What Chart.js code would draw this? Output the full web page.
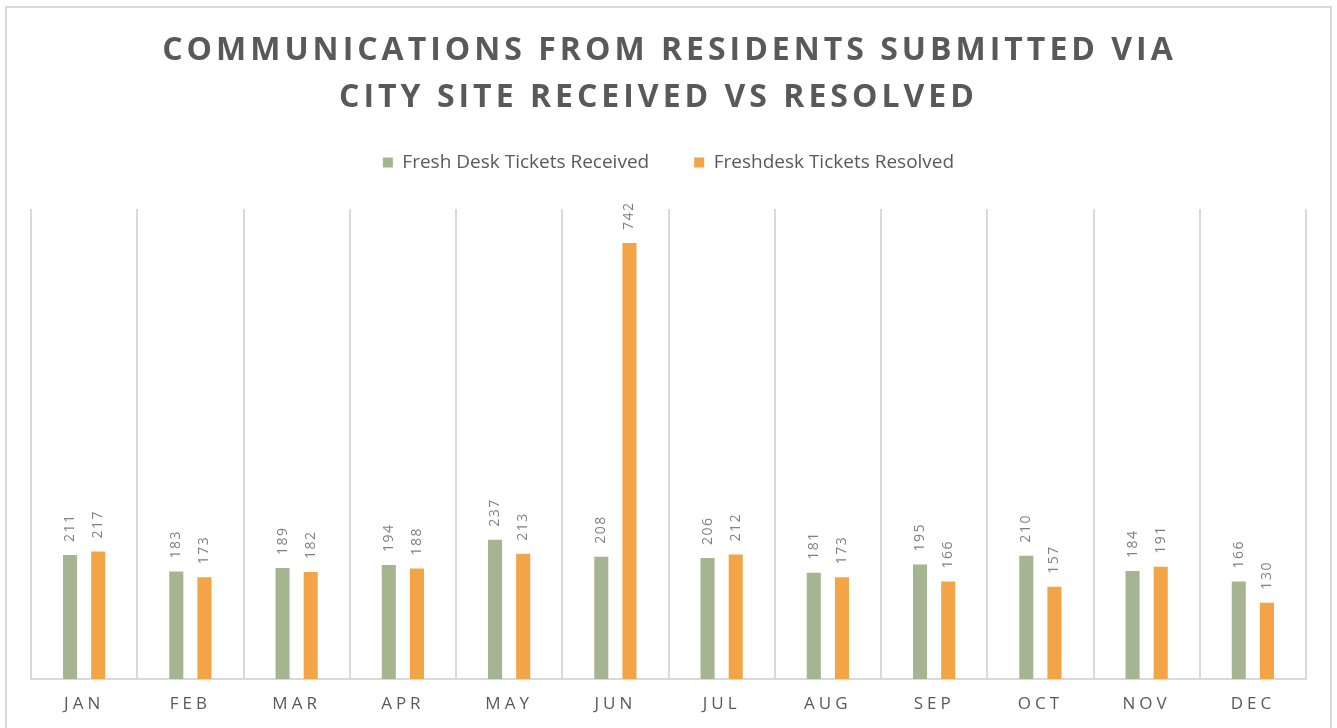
<!DOCTYPE html>
<html>
<head>
<meta charset="utf-8">
<script src="https://cdn.jsdelivr.net/npm/chart.js@4.4.1/dist/chart.umd.min.js"></script>
<style>
  html,body{margin:0;padding:0;background:#fff;}
  #wrap{position:relative;width:1337px;height:728px;overflow:hidden;}
  #frame{position:absolute;left:5px;top:6px;width:1327px;height:740px;border:2px solid #d9d9d9;box-sizing:border-box;pointer-events:none;}
  canvas{position:absolute;left:0;top:0;}
</style>
</head>
<body>
<div id="wrap">
  <canvas id="chart" width="1337" height="728"></canvas>
  <div id="frame"></div>
</div>
<script>
// ── DATA ─────────────────────────────────────────────────
const titleLines = ['COMMUNICATIONS FROM RESIDENTS SUBMITTED VIA','CITY SITE RECEIVED VS RESOLVED'];
const months = ['JAN','FEB','MAR','APR','MAY','JUN','JUL','AUG','SEP','OCT','NOV','DEC'];
const received = [211,183,189,194,237,208,206,181,195,210,184,166];
const resolved = [217,173,182,188,213,742,212,173,166,157,191,130];
const seriesNames = ['Fresh Desk Tickets Received','Freshdesk Tickets Resolved'];

const GREEN = '#a5b592', ORANGE = '#f3a447', TXT = '#595959', LBL = '#7f7f7f', GRID = '#d9d9d9';
const FONT = '"Open Sans", "Liberation Sans", sans-serif';

// ── PLUGINS ──────────────────────────────────────────────
const extras = {
    id:'extras',
    afterDatasetsDraw(chart){
        const ctx = chart.ctx;
        ctx.save();
        ctx.fillStyle = LBL;
        ctx.font = '14px ' + FONT;
        ctx.letterSpacing = '1.5px';
        ctx.textAlign = 'left';
        ctx.textBaseline = 'middle';
        chart.data.datasets.forEach((ds,di)=>{
            chart.getDatasetMeta(di).data.forEach((bar,i)=>{
                ctx.save();
                ctx.translate(bar.x, bar.y - 13);
                ctx.rotate(-Math.PI/2);
                ctx.fillText(String(ds.data[i]), 0, 0);
                ctx.restore();
            });
        });
        ctx.restore();
    },
    afterDraw(chart){
        const ctx = chart.ctx, x = chart.scales.x;
        ctx.save();
        // month labels
        ctx.fillStyle = TXT;
        ctx.font = '17px ' + FONT;
        ctx.letterSpacing = '4px';
        ctx.textAlign = 'center';
        ctx.textBaseline = 'middle';
        months.forEach((m,i)=>{ ctx.fillText(m, x.getPixelForValue(i), 704); });
        // title (second line sits a little left of centre in the original)
        ctx.font = 'bold 32px ' + FONT;
        ctx.letterSpacing = '4px';
        ctx.fillText(titleLines[0], chart.width/2 + 1, 51);
        ctx.fillText(titleLines[1], chart.width/2 - 10, 98);
        ctx.restore();
    }
};

// ── CHART ────────────────────────────────────────────────
new Chart(document.getElementById('chart'),{
    type:'bar',
    data:{
        labels:months,
        datasets:[
            {label:seriesNames[0],data:received,backgroundColor:GREEN,categoryPercentage:0.53,barPercentage:0.5},
            {label:seriesNames[1],data:resolved,backgroundColor:ORANGE,categoryPercentage:0.53,barPercentage:0.5}
        ]
    },
    options:{
        responsive:false,
        animation:false,
        layout:{padding:{top:108,left:31,right:31,bottom:49}},
        plugins:{
            title:{display:false},
            // empty spacer between legend and plot area
            subtitle:{display:true,text:'',weight:500,font:{size:10,lineHeight:1},padding:{top:0,bottom:17}},
            tooltip:{enabled:false},
            legend:{
                position:'top',
                labels:{color:TXT,font:{family:FONT,size:19},boxWidth:10,boxHeight:10,padding:45}
            }
        },
        scales:{
            x:{
                ticks:{display:false},
                grid:{color:GRID,lineWidth:2,offset:true,drawTicks:false},
                border:{color:GRID,width:2}
            },
            y:{display:false,min:0,max:800}
        }
    },
    plugins:[extras]
});
</script>
</body>
</html>
